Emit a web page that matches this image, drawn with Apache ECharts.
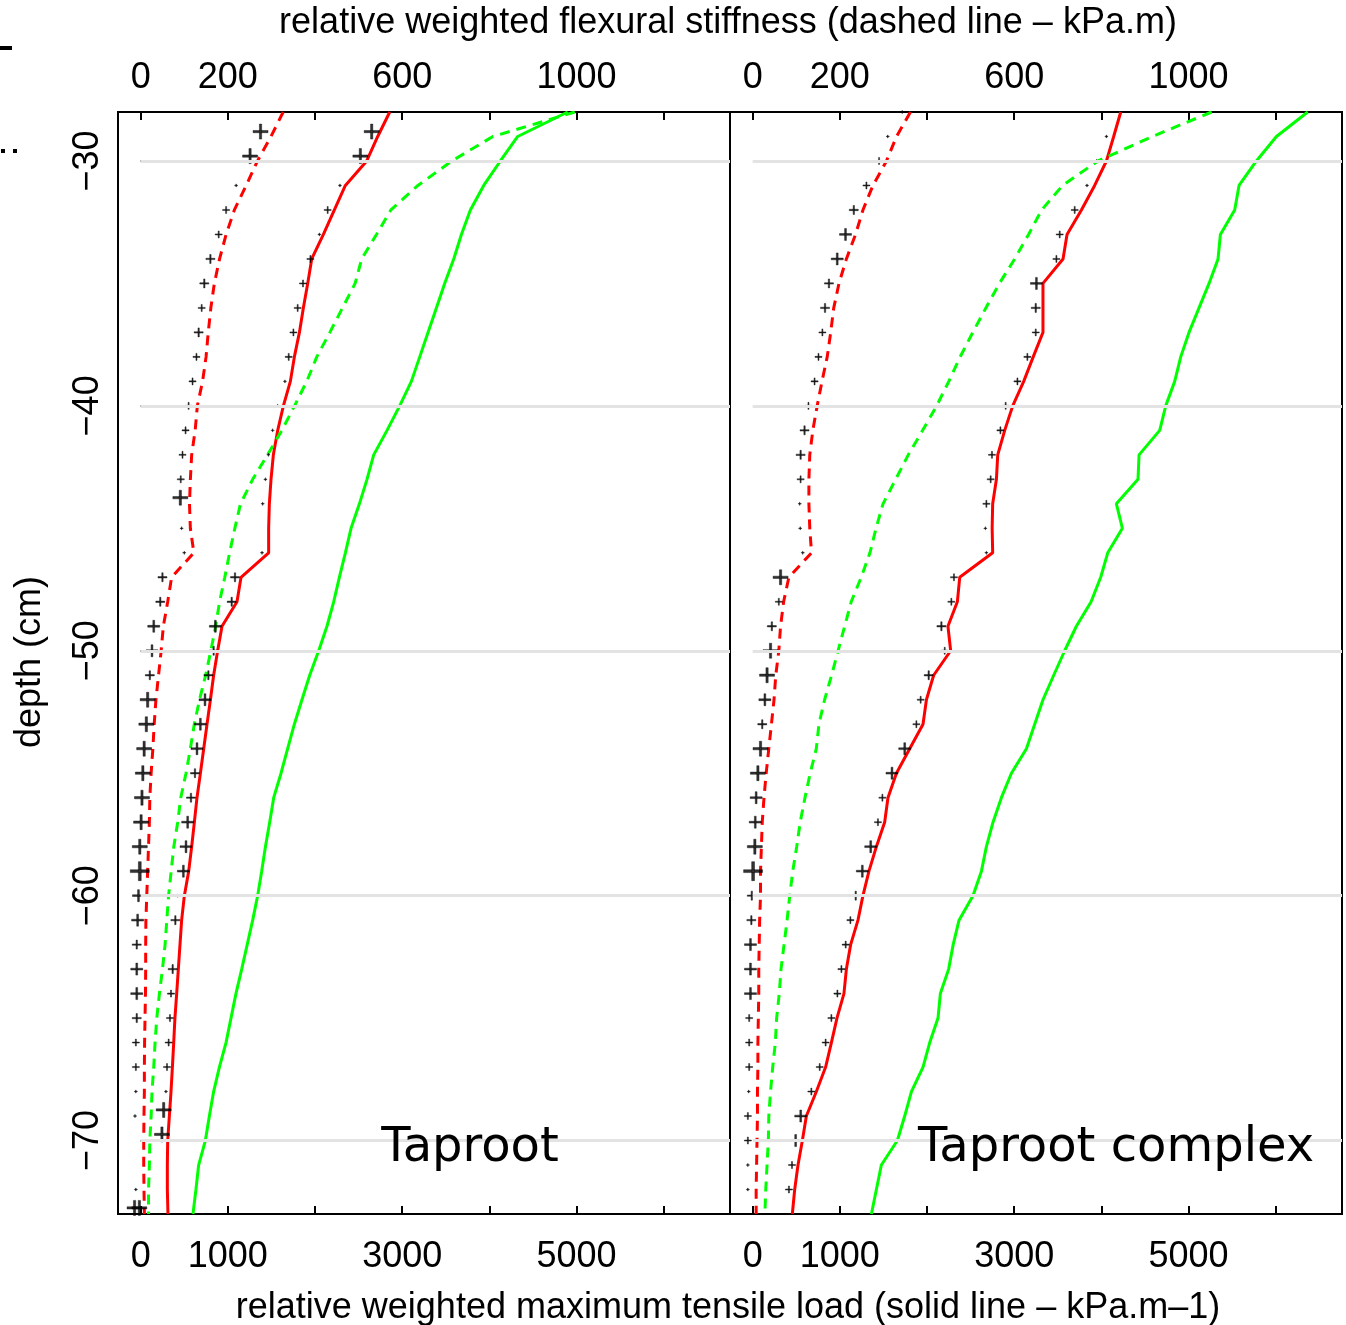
<!DOCTYPE html>
<html><head><meta charset="utf-8">
<script src="https://cdn.jsdelivr.net/npm/echarts@6/dist/echarts.min.js"></script>
<style>html,body{margin:0;padding:0;background:#fff}#c{width:1346px;height:1325px}</style>
</head><body><div id="c"></div>
<script>
// depth of the line vertices (cm)
const depths = [-28,-29,-30,-31,-32,-33,-34,-35,-36,-37,-38,-39,-40,-41,-42,-43,-44,-45,-46,-47,-48,-49,-50,-51,-52,-53,-54,-55,-56,-57,-58,-59,-60,-61,-62,-63,-64,-65,-66,-67,-68,-69,-70,-71,-72,-73];

// Taproot (left panel)
const tapRedLoad   = [2857,2719,2593,2348,2222,2096,1962,1916,1866,1821,1763,1717,1637,1572,1522,1495,1476,1468,1468,1151,1105,933,883,837,800,761,723,685,646,616,585,551,501,470,451,432,413,393,379,364,348,329,310,306,306,313];
const tapGreenLoad = [4898,4325,4126,3935,3782,3679,3591,3487,3392,3296,3201,3105,2971,2826,2673,2596,2509,2413,2348,2279,2214,2137,2042,1939,1850,1763,1686,1610,1526,1480,1431,1388,1342,1285,1222,1159,1093,1036,979,903,837,788,742,665,634,600];
const tapRedStiff  = [327,299,268,242,215,196,181,169,161,155,150,142,130,125,117,114,112,114,122,71,62,52,47,41,35,31,28,24,21,20,18,16,14,12,11.5,11.5,11,10,9,8.5,8.5,7.6,7,7,7.6,8.5];
const tapGreenStiff= [996,808,714,636,574,541,507,492,463,434,404,381,353,324,291,257,229,216,204,193,181,172,161,149,135,123,114,104,92,85,76,70,64,60,56,50,43,37,33,30,26,24,21,20,18,18];

// Taproot complex (right panel)
const cpxRedLoad   = [4222,4141,4058,3923,3771,3606,3560,3330,3330,3330,3218,3109,2983,2891,2811,2796,2753,2747,2753,2375,2348,2240,2271,2076,1993,1954,1801,1649,1552,1514,1419,1334,1265,1208,1124,1075,1047,967,903,837,731,616,570,520,482,455];
const cpxGreenLoad = [6367,6008,5778,5579,5529,5365,5338,5235,5120,5005,4910,4841,4738,4669,4432,4420,4172,4241,4073,3992,3882,3713,3579,3453,3330,3235,3140,2968,2853,2757,2681,2624,2527,2367,2300,2248,2153,2126,2031,1954,1821,1744,1660,1476,1419,1362];
const cpxRedStiff  = [362,330,307,276,253,236,215,198,186,179,171,159,148,138,131,129,129,131,135,83,71,64,60,53,49,43,37,31,26,22,20,18,18,16,15,14,14,13,12,12,11,11,10,9,8,8];
const cpxGreenStiff= [1053,917,792,711,663,633,601,566,535,505,476,450,422,390,357,328,299,283,269,249,226,211,196,181,165,152,146,132,120,109,101,92,85,79,72,65,61,55,52,46,41,37,36,33,30,28];

// "+" points (depth, value, weight class 0..5)
const tapStiffPtDepth = [-28.8,-29.8,-31,-32,-33,-34,-35,-36,-37,-38,-39,-40,-41,-42,-43,-43.75,-45,-46,-47,-48,-49,-50,-51,-52,-53,-54,-55,-56,-57,-58,-59,-60,-61,-62,-63,-64,-65,-66,-67,-68,-69,-72,-72.75];
const tapStiffPtVal   = [275,251,219,196,179,160,146,140,133,128,119,110,103,96,92,91,94,100,50,45,30,26,21,16,13,8,5,3,1,-2,-2,-5,-7,-9,-9,-9,-9,-11,-11,-11,-13,-11,-14];
const tapStiffPtW     = [4,4,0,1,1,2,2,1,2,1,1,1,1,1,1,4,0,0,2,2,3,3,2,4,4,4,4,4,4,4,5,3,3,2,3,3,2,1,1,0,0,0,4];

const tapLoadPtDepth = [-28.8,-29.8,-31,-32,-33,-34,-35,-36,-37,-38,-39,-40,-41,-42,-43,-44,-46,-47,-48,-49,-50,-51,-52,-53,-54,-55,-56,-57,-58,-59,-60,-61,-63,-64,-65,-66,-67,-68,-68.75,-69.75,-72.75];
const tapLoadPtVal   = [2650,2520,2286,2145,2050,1947,1862,1801,1752,1698,1655,1572,1514,1465,1431,1400,1392,1082,1044,857,837,777,738,685,646,623,577,539,520,490,424,398,367,348,336,321,302,290,264,244,-15];
const tapLoadPtW     = [4,4,0,1,0,1,1,1,1,1,0,0,0,0,0,0,0,2,2,3,2,2,3,3,3,2,2,3,3,3,0,2,2,1,1,1,1,0,4,4,4];

const cpxStiffPtDepth = [-28,-29,-30,-31,-32,-33,-34,-35,-36,-37,-38,-39,-40,-41,-42,-43,-44,-45,-46,-47,-48,-49,-50,-51,-52,-53,-54,-55,-56,-57,-58,-59,-60,-61,-62,-63,-64,-65,-66,-67,-68,-69,-70,-71,-72];
const cpxStiffPtVal   = [343,310,290,261,232,213,194,175,166,160,151,142,128,119,110,110,108,109,115,64,60,44,41,33,28,22,18,12,8,6,5,1,-2,-3,-5,-5,-5,-8,-8,-8,-9,-11,-11,-11,-11];
const cpxStiffPtW     = [0,0,1,1,2,3,3,2,2,1,1,1,1,2,2,1,0,0,0,4,1,2,4,4,3,2,4,4,3,3,4,5,2,2,3,3,3,1,1,1,0,1,1,0,0];

const cpxLoadPtDepth = [-29,-30,-31,-32,-33,-34,-35,-36,-37,-38,-39,-40,-41,-42,-43,-44,-45,-46,-47,-48,-49,-50,-51,-52,-53,-54,-55,-56,-57,-58,-59,-60,-61,-62,-63,-64,-65,-66,-67,-68,-69,-70,-71,-72];
const cpxLoadPtVal   = [4058,3946,3835,3694,3522,3484,3255,3247,3247,3151,3037,2902,2842,2745,2730,2681,2669,2681,2309,2279,2165,2203,2019,1927,1878,1744,1598,1488,1437,1354,1258,1182,1121,1067,1018,972,903,837,769,673,551,493,451,416];
const cpxLoadPtW     = [0,0,0,1,1,1,3,2,1,1,1,1,1,1,1,1,0,0,1,1,2,1,2,1,1,3,3,1,1,3,3,2,1,1,1,1,1,1,1,1,3,3,1,1];

// axis ticks / labels
const loadTicks   = [0,1000,2000,3000,4000,5000,6000];
const loadLabels  = [0,1000,3000,5000];
const stiffTicks  = [0,200,400,600,800,1000,1200];
const stiffLabels = [0,200,600,1000];
const depthTicks  = [-70,-60,-50,-40,-30];

const FONT = '"Liberation Sans", Arial, Helvetica, sans-serif';
const markerSizes = [3,7,9,12,15,19];
const PLUS = 'path://M0,8.5L20,8.5L20,11.5L0,11.5Z M8.5,0L11.5,0L11.5,20L8.5,20Z';

function zip(vals, ds){ return vals.map((v,i)=>[v, ds[i]]); }
function pts(vals, ds, ws){ return vals.map((v,i)=>({value:[v, ds[i]], symbolSize: markerSizes[ws[i]]})); }

function xAxisDef(gi, pos, min, max, ticks, labels, margin){
  return {type:'value', gridIndex:gi, position:pos, min:min, max:max,
    axisLine:{show:false}, splitLine:{show:false},
    axisTick:{show:true, inside:true, length:8, customValues:ticks, lineStyle:{color:'#000', width:2}},
    axisLabel:{show:true, customValues:labels, color:'#000', fontSize:36, fontFamily:FONT, margin:margin,
      formatter: v => String(v)}};
}
function yAxisDef(gi, show){
  return {type:'value', gridIndex:gi, min:-73, max:-28,
    axisLine:{show:false}, splitLine:{show:false},
    axisTick:{show:show, inside:true, length:10, customValues:depthTicks, lineStyle:{color:'#000', width:2}},
    axisLabel:{show:show, customValues:depthTicks, rotate:90, margin:12, color:'#000', fontSize:36, fontFamily:FONT,
      formatter: v => String(v).replace('-', '\u2212')}};
}
function lineS(xi, yi, data, color, dashed){
  return {type:'line', xAxisIndex:xi, yAxisIndex:yi, data:data, symbol:'none', silent:true, z:3,
    lineStyle:{color:color, width:3, type: dashed ? [10,7] : 'solid', cap:'butt'}};
}
function ptsS(xi, yi, data){
  return {type:'scatter', xAxisIndex:xi, yAxisIndex:yi, data:data, symbol:PLUS, silent:true, z:4,
    itemStyle:{color:'#000', borderColor:'#000', borderWidth:0.5}};
}
function gridLineS(xi, yi){
  return {type:'line', xAxisIndex:xi, yAxisIndex:yi, data:[], z:1, silent:true,
    markLine:{silent:true, symbol:['none','none'], label:{show:false}, animation:false,
      lineStyle:{color:'#e3e3e3', width:3, type:'solid'},
      data: depthTicks.map(d => [{coord:[0,d]},{coord:[6760,d]}])}};
}

const chart = echarts.init(document.getElementById('c'), null, {renderer:'canvas'});
chart.setOption({
  animation:false,
  backgroundColor:'#fff',
  grid:[
    {left:118, top:112, width:612, height:1102, show:true, borderColor:'#000', borderWidth:2, backgroundColor:'transparent', containLabel:false, outerBoundsMode:'none'},
    {left:730, top:112, width:612, height:1102, show:true, borderColor:'#000', borderWidth:2, backgroundColor:'transparent', containLabel:false, outerBoundsMode:'none'}
  ],
  xAxis:[
    xAxisDef(0,'bottom',-260,6760,loadTicks,loadLabels,25),
    xAxisDef(0,'top',-52,1352,stiffTicks,stiffLabels,16),
    xAxisDef(1,'bottom',-260,6760,loadTicks,loadLabels,25),
    xAxisDef(1,'top',-52,1352,stiffTicks,stiffLabels,16)
  ],
  yAxis:[ yAxisDef(0,true), yAxisDef(1,false) ],
  series:[
    gridLineS(0,0),
    gridLineS(2,1),
    lineS(0,0,zip(tapGreenLoad,depths),'#00ff00',false),
    lineS(0,0,zip(tapRedLoad,depths),'#ff0000',false),
    lineS(1,0,zip(tapGreenStiff,depths),'#00ff00',true),
    lineS(1,0,zip(tapRedStiff,depths),'#ff0000',true),
    ptsS(1,0,pts(tapStiffPtVal,tapStiffPtDepth,tapStiffPtW)),
    ptsS(0,0,pts(tapLoadPtVal,tapLoadPtDepth,tapLoadPtW)),
    lineS(2,1,zip(cpxGreenLoad,depths),'#00ff00',false),
    lineS(2,1,zip(cpxRedLoad,depths),'#ff0000',false),
    lineS(3,1,zip(cpxGreenStiff,depths),'#00ff00',true),
    lineS(3,1,zip(cpxRedStiff,depths),'#ff0000',true),
    ptsS(3,1,pts(cpxStiffPtVal,cpxStiffPtDepth,cpxStiffPtW)),
    ptsS(2,1,pts(cpxLoadPtVal,cpxLoadPtDepth,cpxLoadPtW))
  ],
  graphic:[
    {type:'text', x:728, y:23, silent:true, style:{text:'relative weighted flexural stiffness (dashed line \u2013 kPa.m)', font:'36px '+FONT, fill:'#000', align:'center', verticalAlign:'middle', textAlign:'center', textVerticalAlign:'middle'}},
    {type:'text', x:728, y:1308, silent:true, style:{text:'relative weighted maximum tensile load (solid line \u2013 kPa.m\u20131)', font:'36px '+FONT, fill:'#000', align:'center', verticalAlign:'middle', textAlign:'center', textVerticalAlign:'middle'}},
    {type:'text', x:30, y:662, rotation:Math.PI/2, silent:true, style:{text:'depth (cm)', font:'36px '+FONT, fill:'#000', align:'center', verticalAlign:'middle', textAlign:'center', textVerticalAlign:'middle'}},
    {type:'text', x:470, y:1149, silent:true, z:10, style:{text:'Taproot', font:'48px "DejaVu Sans", sans-serif', fill:'#000', align:'center', verticalAlign:'middle', textAlign:'center', textVerticalAlign:'middle'}},
    {type:'text', x:1116, y:1149, silent:true, z:10, style:{text:'Taproot complex', font:'48px "DejaVu Sans", sans-serif', fill:'#000', align:'center', verticalAlign:'middle', textAlign:'center', textVerticalAlign:'middle'}},
    {type:'rect', shape:{x:0, y:46, width:12, height:4}, style:{fill:'#000'}, silent:true},
    {type:'rect', shape:{x:1, y:149, width:4, height:4}, style:{fill:'#000'}, silent:true},
    {type:'rect', shape:{x:13, y:149, width:4, height:4}, style:{fill:'#000'}, silent:true}
  ]
});
</script></body></html>
